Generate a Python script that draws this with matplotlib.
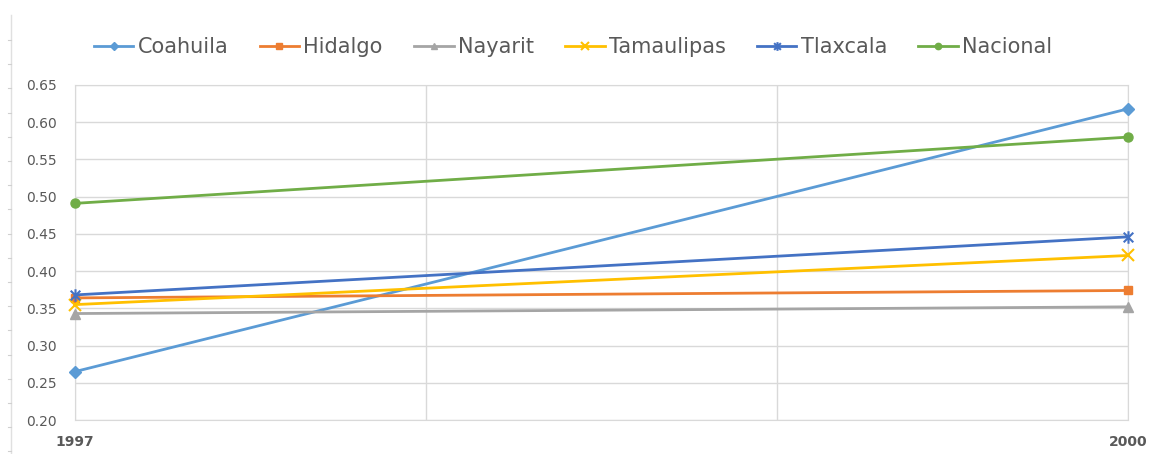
import numpy as np
import matplotlib.pyplot as plt
from matplotlib.lines import Line2D
from matplotlib.path import Path

# values per state, 1997 and 2000
years = [1997, 2000]
coahuila = [0.265, 0.618]
hidalgo = [0.364, 0.374]
nayarit = [0.343, 0.352]
tamaulipas = [0.355, 0.421]
tlaxcala = [0.368, 0.446]
nacional = [0.491, 0.580]

# star marker: an x with a vertical stroke through it
star = Path([(-1, -1), (1, 1), (-1, 1), (1, -1), (0, -1.3), (0, 1.3)],
            [Path.MOVETO, Path.LINETO, Path.MOVETO, Path.LINETO,
             Path.MOVETO, Path.LINETO])

series = [
    ("Coahuila", coahuila, '#5B9BD5', 'D', 6),
    ("Hidalgo", hidalgo, '#ED7D31', 's', 6),
    ("Nayarit", nayarit, '#A5A5A5', '^', 7),
    ("Tamaulipas", tamaulipas, '#FFC000', 'x', 8),
    ("Tlaxcala", tlaxcala, '#4472C4', star, 9),
    ("Nacional", nacional, '#70AD47', 'o', 6.5),
]

fig = plt.figure(figsize=(11.53, 4.54), dpi=100)
ax = fig.add_axes([75/1153, 34/454, 1053/1153, 335/454])

for name, vals, col, mk, ms in series:
    thin = isinstance(mk, Path) or mk == 'x'
    ax.plot(years, vals, color=col, lw=2.0, marker=mk, markersize=ms,
            markeredgewidth=1.5 if thin else 1.0,
            label=name, clip_on=False, zorder=3)

ax.set_xlim(1997, 2000)
ax.set_ylim(0.20, 0.65)
ax.set_xticks([1997, 1998, 1999, 2000])
ax.set_xticklabels(['1997', '', '', '2000'], fontweight='bold')
ax.set_yticks(np.arange(0.20, 0.651, 0.05))
ax.set_yticklabels(['%.2f' % v for v in np.arange(0.20, 0.651, 0.05)])
ax.tick_params(axis='both', length=0, labelsize=10, colors='#595959')
ax.tick_params(axis='x', pad=11)
ax.tick_params(axis='y', pad=13)
ax.grid(True, color='#d9d9d9', lw=1.0)
ax.set_axisbelow(True)
for s in ax.spines.values():
    s.set_color('#d9d9d9')

leg = fig.legend(loc='center', bbox_to_anchor=(0.497, 1 - 47/454), ncol=6,
                 frameon=False, fontsize=15, handlelength=1.9,
                 handletextpad=0.2, columnspacing=1.5, markerscale=0.7)
for t in leg.get_texts():
    t.set_color('#595959')

# faint ruler line at the left edge
fig.add_artist(Line2D([11/1153, 11/1153], [0, 1 - 15/454],
                      color='#e0e0e0', lw=1.0))
for yp in np.arange(40, 454, 24.2):
    fig.add_artist(Line2D([8/1153, 11/1153], [1 - yp/454, 1 - yp/454],
                          color='#d0d0d0', lw=0.8))

plt.savefig('out.png', dpi=100, facecolor='w')
